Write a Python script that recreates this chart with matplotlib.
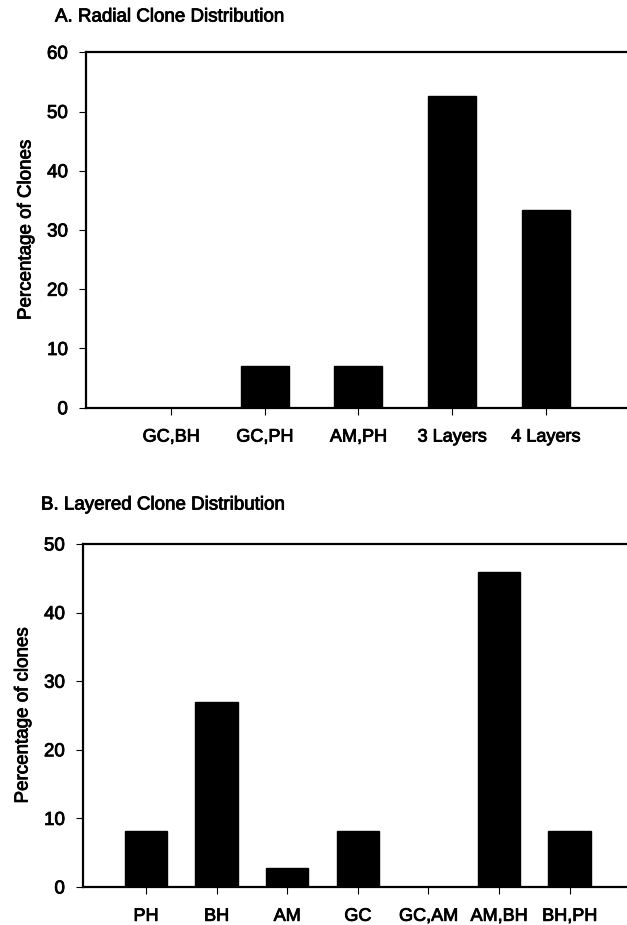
import matplotlib
matplotlib.use("Agg")
from matplotlib import pyplot as plt
from matplotlib import patheffects

plt.rcParams['font.family'] = ['Liberation Sans', 'DejaVu Sans']

# Panel A data
radial_labels = ["GC,BH", "GC,PH", "AM,PH", "3 Layers", "4 Layers"]
radial_values = [0, 7.0, 7.0, 52.7, 33.4]

# Panel B data
layered_labels = ["PH", "BH", "AM", "GC", "GC,AM", "AM,BH", "BH,PH"]
layered_values = [8.1, 27.0, 2.7, 8.1, 0, 45.9, 8.1]


def style_axes(ax):
    # right side is cut off by the figure edge in the original
    ax.spines['right'].set_visible(False)
    for side in ['left', 'bottom', 'top']:
        ax.spines[side].set_linewidth(1.6)
    ax.tick_params(axis='both', direction='out', length=5, width=0.8,
                   labelsize=13, colors='black')
    ax.tick_params(axis='y', labelsize=13.5, pad=8)
    ax.tick_params(axis='x', pad=10)


fig = plt.figure(figsize=(6.27, 9.25), dpi=100)

# Panel A
ax1 = fig.add_axes([0.1372, 0.5592, 0.8628, 0.3843])
x1 = list(range(len(radial_labels)))
ax1.bar(x1, radial_values, width=0.51, color='black', edgecolor='black')
ax1.set_xlim(-0.907, 4.867)
ax1.set_ylim(0, 60)
ax1.set_yticks([0, 10, 20, 30, 40, 50, 60])
ax1.set_xticks(x1)
ax1.set_xticklabels(radial_labels)
ax1.set_ylabel("Percentage of Clones", fontsize=13.5, labelpad=9)
style_axes(ax1)
fig.text(55 / 627, 1 - 17 / 925, "A. Radial Clone Distribution",
         fontsize=13.5, ha='left', va='center')

# Panel B
ax2 = fig.add_axes([0.1324, 0.0411, 0.8676, 0.3708])
x2 = list(range(len(layered_labels)))
ax2.bar(x2, layered_values, width=0.6, color='black', edgecolor='black')
ax2.set_xlim(-0.892, 6.813)
ax2.set_ylim(0, 50)
ax2.set_yticks([0, 10, 20, 30, 40, 50])
ax2.set_xticks(x2)
ax2.set_xticklabels(layered_labels)
ax2.set_ylabel("Percentage of clones", fontsize=13.5, labelpad=9)
style_axes(ax2)
fig.text(41 / 627, 1 - 505 / 925, "B. Layered Clone Distribution",
         fontsize=13.5, ha='left', va='center')

# scanned original looks a bit heavier than plain regular weight
for t in fig.findobj(matplotlib.text.Text):
    t.set_path_effects([patheffects.withStroke(linewidth=0.6, foreground='black')])

fig.savefig("out.png", dpi=100)
